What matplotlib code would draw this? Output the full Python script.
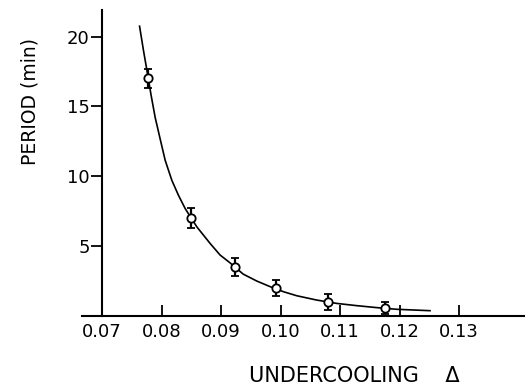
import numpy as np
import matplotlib.pyplot as plt

# measured points (undercooling, period in min, error bar)
delta = [0.0777, 0.0850, 0.0924, 0.0992, 0.1080, 0.1176]
period = [17.0, 7.0, 3.5, 2.0, 1.0, 0.57]
err = [0.7, 0.7, 0.65, 0.6, 0.55, 0.45]

# fitted curve
curve_x = [0.07628, 0.07694, 0.07751, 0.0782, 0.07891, 0.0797, 0.08059,
           0.08171, 0.08282, 0.08395, 0.08591, 0.08815, 0.08983, 0.09151,
           0.0937, 0.0960, 0.09824, 0.10047, 0.10272, 0.10608, 0.10945,
           0.11281, 0.11617, 0.11953, 0.12513]
curve_y = [20.74, 19.0, 17.6, 15.85, 14.2, 12.75, 11.14,
           9.71, 8.64, 7.69, 6.38, 5.19, 4.36, 3.8,
           3.0, 2.5, 2.1, 1.74, 1.45, 1.14, 0.9,
           0.74, 0.6, 0.48, 0.38]

xticks = [0.07, 0.08, 0.09, 0.10, 0.11, 0.12, 0.13]
xticklabels = ['0.07', '0.08', '0.09', '0.10', '0.11', '0.12', '0.13']
yticks = [5, 10, 15, 20]

fig = plt.figure(figsize=(5.25, 3.87), dpi=100)
ax = fig.add_axes([82/525, 71/387, 443/525, 306/387])

ax.plot(curve_x, curve_y, color='black', lw=1.2, zorder=2)
ax.errorbar(delta, period, yerr=err, fmt='o', color='black', mfc='white',
            mec='black', ms=6, mew=1.3, elinewidth=1.6, capsize=2.8,
            capthick=1.4, zorder=3)

ax.set_xlim(0.0666, 0.1411)
ax.set_ylim(0, 21.9)

for s in ['top', 'right']:
    ax.spines[s].set_visible(False)
ax.spines['left'].set_position(('data', 0.07))
ax.spines['left'].set_linewidth(1.5)
ax.spines['bottom'].set_linewidth(1.5)

ax.set_xticks(xticks)
ax.set_xticklabels(xticklabels)
ax.set_yticks(yticks)
ax.tick_params(axis='x', direction='in', length=8, width=1.3, labelsize=13, pad=5)
ax.tick_params(axis='y', direction='out', length=8, width=1.3, labelsize=13, pad=1)

ax.set_ylabel('PERIOD (min)', fontsize=13.5)
ax.yaxis.set_label_coords(-0.095, 0.70)
ax.set_xlabel('UNDERCOOLING    \u0394', fontsize=15)
ax.xaxis.set_label_coords(0.614, -0.165)

fig.savefig('out.png', dpi=100)
